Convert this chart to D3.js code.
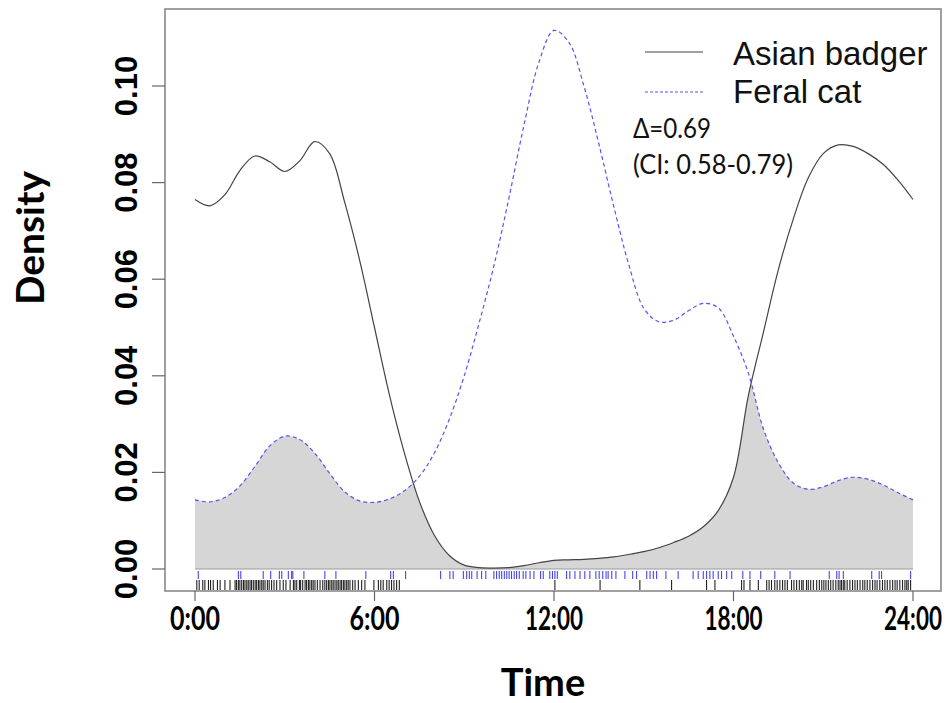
<!DOCTYPE html>
<html><head><meta charset="utf-8">
<script src="https://cdn.jsdelivr.net/npm/d3@7"></script>
<style>body{margin:0;background:#fff}svg{display:block}</style>
</head><body>
<svg id="chart" width="947" height="703"></svg>
<script>
// ---- data ----
const hours = d3.range(0, 24.01, 0.5);
const badger = [0.0765,0.0752,0.0775,0.0825,0.0855,0.0843,0.0823,0.0845,0.0885,0.0860,0.0760,0.0640,0.0500,0.0360,0.0240,0.0140,0.0070,0.0028,0.0008,0.0003,0.0002,0.0003,0.0007,0.0013,0.0018,0.0019,0.0020,0.0022,0.0025,0.0030,0.0036,0.0044,0.0055,0.0068,0.0088,0.0122,0.0190,0.0360,0.0490,0.0620,0.0725,0.0810,0.0860,0.0878,0.0875,0.0860,0.0838,0.0805,0.0765];
const cat = [0.0143,0.0139,0.0148,0.0172,0.0212,0.0255,0.0275,0.0268,0.0240,0.0198,0.0160,0.0141,0.0138,0.0145,0.0162,0.0192,0.0240,0.0310,0.0400,0.0510,0.0630,0.0770,0.0920,0.1050,0.1115,0.1090,0.1000,0.0880,0.0750,0.0630,0.0540,0.0512,0.0515,0.0535,0.0550,0.0540,0.0482,0.0405,0.0290,0.0220,0.0178,0.0165,0.0170,0.0183,0.0190,0.0186,0.0174,0.0158,0.0143];
const rugCat = [0.11,1.45,1.53,2.28,2.53,2.82,2.90,3.12,3.23,3.27,3.64,4.34,4.71,5.71,6.54,6.63,7.04,8.21,8.52,8.63,8.97,9.08,9.17,9.25,9.43,9.58,9.72,9.99,10.08,10.17,10.25,10.34,10.42,10.50,10.58,10.67,10.75,10.84,10.97,11.06,11.20,11.33,11.55,11.64,11.86,11.95,12.03,12.11,12.42,12.53,12.70,12.87,13.03,13.20,13.40,13.51,13.63,13.74,13.81,13.93,14.07,14.37,14.63,14.76,15.10,15.21,15.32,15.43,15.74,16.15,16.65,16.82,16.99,17.10,17.21,17.32,17.49,17.60,17.77,17.94,18.31,18.55,18.91,19.38,19.89,21.20,21.45,21.53,21.67,22.62,22.87,22.95,23.92];
const rugBadger = [0.06,0.14,0.26,0.33,0.45,0.52,0.61,0.75,0.84,1.00,1.17,1.34,1.39,1.45,1.50,1.56,1.62,1.67,1.73,1.78,1.84,1.89,1.95,2.01,2.06,2.12,2.17,2.23,2.28,2.34,2.42,2.48,2.56,2.64,2.73,2.84,2.95,3.04,3.18,3.29,3.34,3.40,3.49,3.53,3.60,3.68,3.73,3.79,3.84,3.90,3.95,4.01,4.09,4.18,4.27,4.34,4.40,4.46,4.51,4.57,4.62,4.68,4.74,4.79,4.85,4.90,4.96,5.01,5.07,5.12,5.18,5.27,5.35,5.46,5.57,5.68,5.98,6.13,6.21,6.29,6.41,6.49,6.57,6.65,6.74,6.83,12.03,13.54,14.87,15.93,17.10,17.38,18.27,18.35,18.55,18.83,19.11,19.19,19.27,19.38,19.46,19.55,19.64,19.72,19.80,19.94,20.02,20.11,20.20,20.28,20.33,20.44,20.50,20.58,20.67,20.78,20.87,20.95,21.02,21.09,21.17,21.25,21.33,21.42,21.50,21.56,21.61,21.67,21.72,21.80,21.89,21.98,22.06,22.14,22.23,22.32,22.39,22.47,22.56,22.65,22.73,22.80,22.89,22.98,23.06,23.14,23.23,23.32,23.40,23.47,23.56,23.65,23.73,23.79,23.84,23.92];
const xTicks = [0, 6, 12, 18, 24];
const xTickLabels = ["0:00", "6:00", "12:00", "18:00", "24:00"];
const yTicks = [0, 0.02, 0.04, 0.06, 0.08, 0.10];
const yTickLabels = ["0.00", "0.02", "0.04", "0.06", "0.08", "0.10"];
const seriesNames = ["Asian badger", "Feral cat"];
const annot = ["\u0394=0.69", "(CI: 0.58-0.79)"];

// ---- drawing ----
const svg = d3.select("#chart");
const x = d3.scaleLinear().domain([0, 24]).range([195, 913]);
const y = d3.scaleLinear().domain([0, 0.1]).range([569, 86]);
const curve = d3.curveCatmullRom.alpha(0.5);

// horizontally condense a text element to a target width (keeps real text)
function condense(sel, tx, ty, target, anchorMiddle) {
  sel.each(function(_, i) {
    const el = d3.select(this);
    const w = this.getComputedTextLength();
    const t = typeof target === "function" ? target(i) : target;
    const s = Math.min(1, t / w);
    const X = typeof tx === "function" ? tx(i) : tx;
    el.attr("x", 0).attr("y", 0)
      .attr("transform", `translate(${X},${ty}) scale(${s},1)`);
  });
}

const badgerPts = hours.map((h, i) => [h, badger[i]]);
const catPts = hours.map((h, i) => [h, cat[i]]);
const area = d3.area().x(d => x(d[0])).y0(y(0)).y1(d => y(d[1])).curve(curve);

// overlap = area under cat clipped by area under badger
svg.append("defs").append("clipPath").attr("id", "underBadger")
  .append("path").attr("d", area(badgerPts));
svg.append("path").attr("d", area(catPts))
  .attr("clip-path", "url(#underBadger)")
  .attr("fill", "#d6d6d6");
svg.append("line").attr("x1", x(0)).attr("x2", x(24)).attr("y1", y(0)).attr("y2", y(0))
  .attr("stroke", "#9a9a9a").attr("stroke-width", 1.2);

const line = d3.line().x(d => x(d[0])).y(d => y(d[1])).curve(curve);
svg.append("path").datum(badgerPts)
  .attr("d", line).attr("fill", "none").attr("stroke", "#444").attr("stroke-width", 1.2);
svg.append("path").datum(catPts)
  .attr("d", line).attr("fill", "none").attr("stroke", "#5555ee").attr("stroke-width", 1.2)
  .attr("stroke-dasharray", "4,3");

// rugs
svg.append("g").selectAll("line").data(rugCat).join("line")
  .attr("x1", d => x(d)).attr("x2", d => x(d)).attr("y1", 571).attr("y2", 579)
  .attr("stroke", "#4646f0").attr("stroke-width", 1.1);
svg.append("g").selectAll("line").data(rugBadger).join("line")
  .attr("x1", d => x(d)).attr("x2", d => x(d)).attr("y1", 580).attr("y2", 590)
  .attr("stroke", "#222").attr("stroke-width", 1.1);

// box
svg.append("rect").attr("x", 165).attr("y", 9).attr("width", 776).attr("height", 582)
  .attr("fill", "none").attr("stroke", "#808080").attr("stroke-width", 1.5);

// x axis
const xa = svg.append("g");
xa.selectAll("line").data(xTicks).join("line")
  .attr("x1", d => x(d)).attr("x2", d => x(d)).attr("y1", 591).attr("y2", 601)
  .attr("stroke", "#666").attr("stroke-width", 1.2);
const xl = xa.selectAll("text").data(xTicks).join("text")
  .attr("text-anchor", "middle")
  .attr("font-family", "Lato, 'Open Sans', sans-serif").attr("font-weight", "bold").attr("font-size", 33)
  .text((d, i) => xTickLabels[i]);
condense(xl, i => x(xTicks[i]), 630, i => xTickLabels[i].length > 4 ? 58 : 50);

// y axis
const ya = svg.append("g");
ya.selectAll("line").data(yTicks).join("line")
  .attr("x1", 152).attr("x2", 165).attr("y1", d => y(d)).attr("y2", d => y(d))
  .attr("stroke", "#666").attr("stroke-width", 1.2);
ya.selectAll("text").data(yTicks).join("text")
  .attr("transform", d => `translate(137,${y(d)}) rotate(-90)`)
  .attr("text-anchor", "middle")
  .attr("font-family", "'Liberation Sans', Arial, sans-serif").attr("font-weight", "bold").attr("font-size", 31)
  .text((d, i) => yTickLabels[i]);

// axis titles
const tt = svg.append("text").attr("text-anchor", "middle")
  .attr("font-family", "Lato, sans-serif").attr("font-weight", "bold").attr("font-size", 38)
  .text("Time");
condense(tt, 543, 696, 86);
svg.append("text").attr("transform", "translate(44,238) rotate(-90)").attr("text-anchor", "middle")
  .attr("font-family", "Lato, sans-serif").attr("font-weight", "bold").attr("font-size", 38)
  .attr("textLength", 134).attr("lengthAdjust", "spacingAndGlyphs")
  .text("Density");

// legend
const lg = svg.append("g");
lg.append("line").attr("x1", 645).attr("x2", 703).attr("y1", 52).attr("y2", 52)
  .attr("stroke", "#444").attr("stroke-width", 1.2);
lg.append("line").attr("x1", 645).attr("x2", 703).attr("y1", 92).attr("y2", 92)
  .attr("stroke", "#5555ee").attr("stroke-width", 1.2).attr("stroke-dasharray", "3,2");
lg.selectAll("text").data(seriesNames).join("text")
  .attr("x", 733).attr("y", (d, i) => 65 + i * 38)
  .attr("font-family", "'Liberation Sans', Arial, sans-serif").attr("font-size", 33)
  .attr("fill", "#111").text(d => d);

// annotation
svg.selectAll(".ann").data(annot).join("text").attr("class", "ann")
  .attr("x", 633).attr("y", (d, i) => 138 + i * 36)
  .attr("font-family", "Lato, sans-serif").attr("font-size", 26)
  .attr("textLength", (d, i) => i === 0 ? 78 : 160).attr("lengthAdjust", "spacingAndGlyphs")
  .attr("fill", "#111").text(d => d);
</script>
</body></html>
